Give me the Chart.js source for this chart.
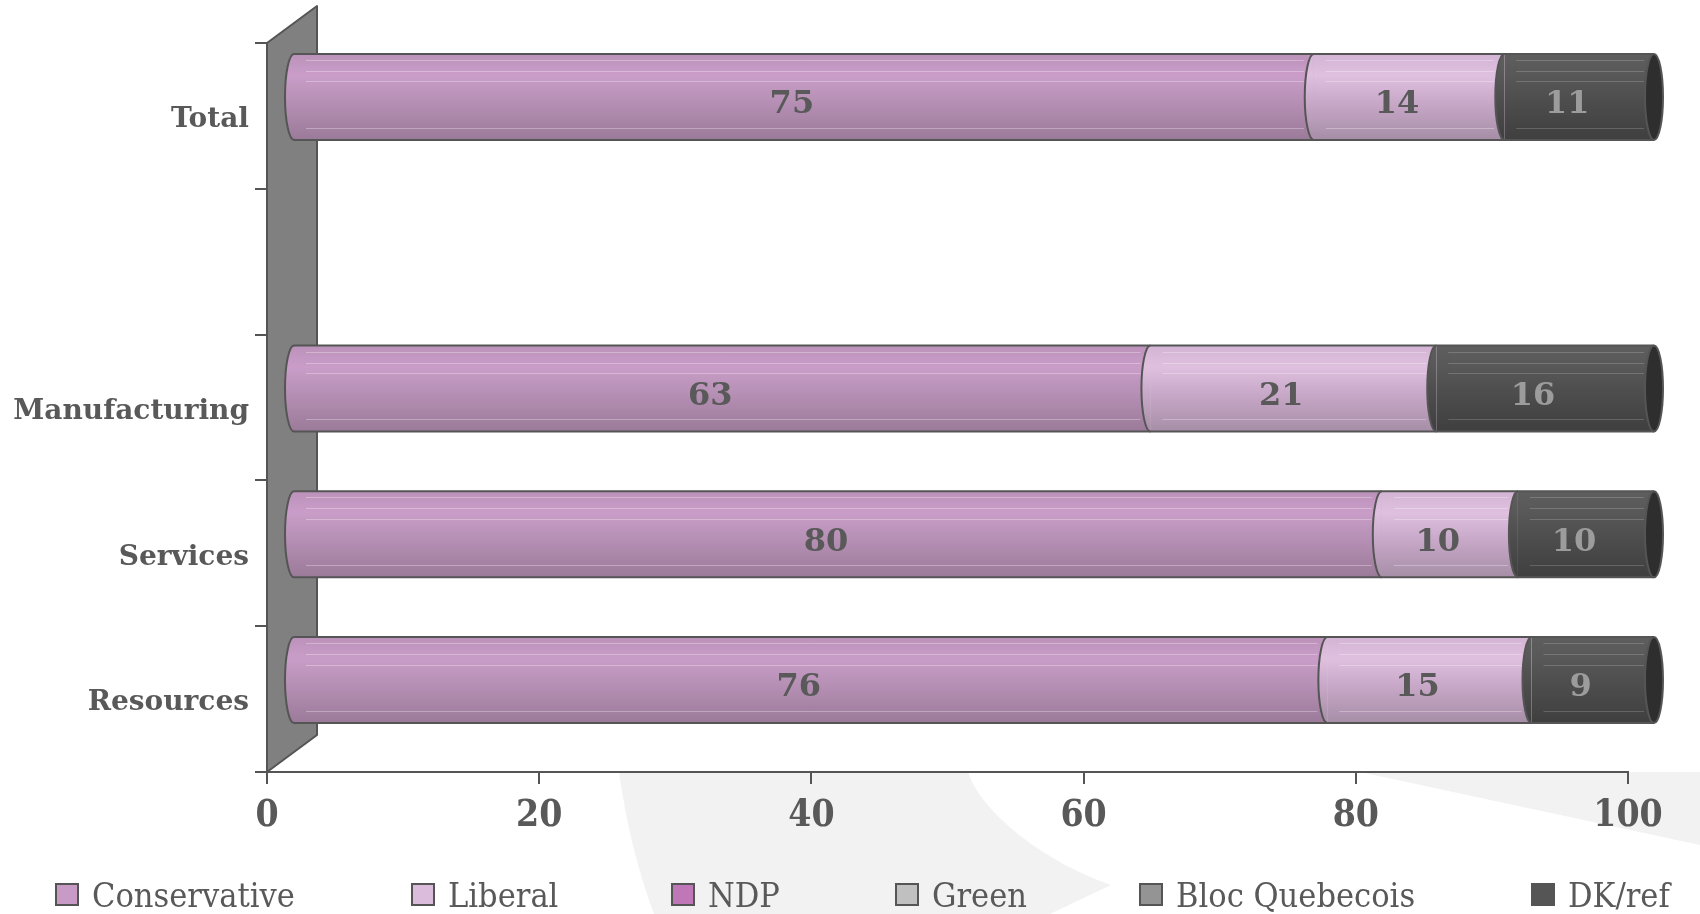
<!DOCTYPE html>
<html>
<head>
<meta charset="utf-8">
<script src="https://cdn.jsdelivr.net/npm/chart.js@4.4.1/dist/chart.umd.min.js"></script>
<style>
  html, body { margin: 0; padding: 0; background: #fff; }
  #wrap { width: 1700px; height: 914px; }
</style>
</head>
<body>
<div id="wrap"><canvas id="chart"></canvas></div>
<script>
// Data
const categories = ['Total', '', 'Manufacturing', 'Services', 'Resources'];
const seriesNames = ['Conservative', 'Liberal', 'NDP', 'Green', 'Bloc Quebecois', 'DK/ref'];
const conservative = [75, null, 63, 80, 76];
const liberal = [14, null, 21, 10, 15];
const ndp = [null, null, null, null, null];
const green = [null, null, null, null, null];
const bloc = [null, null, null, null, null];
const dkRef = [11, null, 16, 10, 9];
const xTicks = [0, 20, 40, 60, 80, 100];

// Styles
const SERIF = "'DejaVu Serif', serif";
const SERIF_C = "'DejaVu Serif Condensed', 'DejaVu Serif', serif";
const TEXT = '#595959';
const legendColors = ['#c79bc6', '#dcbcdc', '#c077b8', '#c0c0c0', '#949494', '#555555'];
const cylStops = [
    ['#bb92ba', '#c99dc8', '#b690b5', '#9b7a99'],
    ['#d4b4d4', '#dfc0df', '#c9a9c9', '#a68ea6'],
    null, null, null,
    ['#5e5e5e', '#585858', '#4d4d4d', '#3f3f3f']
];
const labelColors = [TEXT, TEXT, TEXT, TEXT, TEXT, '#9c9c9c'];
const legendX = [56, 412, 672, 896, 1140, 1532];
const BAR_PCT = 0.59;
const DX = 26, DY = -19;          // bars sit half way into the depth
const DEPTH_X = 50, DEPTH_Y = -37;
const CAP_RX = 9;
const HIGHLIGHTS = [0.07, 0.2, 0.32, 0.86];

function cylFill(i) {
    return function(ctx) {
        const stops = cylStops[i];
        if (!stops) return legendColors[i];
        const y = ctx.chart.scales && ctx.chart.scales.y;
        if (!y || ctx.type !== 'data') return stops[1];
        const yc = y.getPixelForValue(ctx.dataIndex);
        const half = ((y.bottom - y.top) / categories.length) * BAR_PCT / 2;
        if (!isFinite(yc) || !isFinite(half) || half <= 0) return stops[1];
        const g = ctx.chart.ctx.createLinearGradient(0, yc - half, 0, yc + half);
        g.addColorStop(0, stops[0]);
        g.addColorStop(0.25, stops[1]);
        g.addColorStop(0.55, stops[2]);
        g.addColorStop(1, stops[3]);
        return g;
    };
}

const seriesData = [conservative, liberal, ndp, green, bloc, dkRef];

const cylinderPlugin = {
    id: 'cylinder',
    beforeDraw(chart) {
        const c = chart.ctx;
        c.save();
        c.fillStyle = '#fff';
        c.fillRect(0, 0, chart.width, chart.height);
        // light background swooshes
        c.fillStyle = '#f2f2f2';
        c.beginPath();
        c.moveTo(619, 772);
        c.quadraticCurveTo(630, 850, 654, 914);
        c.lineTo(1050, 914);
        c.lineTo(1111, 885);
        c.bezierCurveTo(1040, 860, 980, 810, 968, 772);
        c.closePath();
        c.fill();
        c.beginPath();
        c.moveTo(1360, 772);
        c.lineTo(1700, 772);
        c.lineTo(1700, 845);
        c.closePath();
        c.fill();
        c.restore();
    },
    beforeDatasetsDraw(chart) {
        const c = chart.ctx, a = chart.chartArea;
        c.save();
        c.beginPath();
        c.moveTo(a.left, a.top);
        c.lineTo(a.left + DEPTH_X, a.top + DEPTH_Y);
        c.lineTo(a.left + DEPTH_X, a.bottom + DEPTH_Y);
        c.lineTo(a.left, a.bottom);
        c.closePath();
        c.fillStyle = '#808080';
        c.fill();
        c.strokeStyle = '#555';
        c.lineWidth = 2;
        c.lineJoin = 'round';
        c.stroke();
        c.restore();
        c.save();
        c.translate(DX, DY);
    },
    afterDatasetsDraw(chart) {
        const c = chart.ctx;
        categories.forEach((cat, row) => {
            const segs = [];
            chart.data.datasets.forEach((ds, di) => {
                const v = ds.data[row];
                if (!v) return;
                const el = chart.getDatasetMeta(di).data[row];
                if (!el) return;
                const p = el.getProps(['x', 'y', 'base', 'height'], true);
                segs.push({
                    di: di, v: v,
                    x0: Math.min(p.base, p.x), x1: Math.max(p.base, p.x),
                    y: p.y, h: p.height, fill: el.options.backgroundColor
                });
            });
            if (!segs.length) return;
            const first = segs[0], last = segs[segs.length - 1];
            const ry = first.h / 2, top = first.y - ry, bot = first.y + ry;

            // thin highlight lines
            c.lineWidth = 1;
            segs.forEach(s => {
                c.strokeStyle = s.di === 5 ? 'rgba(255,255,255,0.18)' : 'rgba(255,255,255,0.3)';
                HIGHLIGHTS.forEach(f => {
                    const yy = Math.round(top + f * s.h) + 0.5;
                    c.beginPath();
                    c.moveTo(s.x0 + 12, yy);
                    c.lineTo(s.x1 - 10, yy);
                    c.stroke();
                });
            });

            // left caps of each piece
            segs.forEach(s => {
                c.beginPath();
                c.ellipse(s.x0, s.y, CAP_RX, ry, 0, Math.PI / 2, Math.PI * 1.5);
                c.closePath();
                c.fillStyle = s.fill;
                c.fill();
                c.beginPath();
                c.ellipse(s.x0, s.y, CAP_RX, ry, 0, Math.PI / 2, Math.PI * 1.5);
                c.strokeStyle = '#555';
                c.lineWidth = 2;
                c.stroke();
            });

            // right end
            c.beginPath();
            c.ellipse(last.x1, last.y, CAP_RX, ry, 0, 0, Math.PI * 2);
            c.fillStyle = '#2e2e2e';
            c.fill();
            c.strokeStyle = '#555';
            c.lineWidth = 2;
            c.stroke();

            c.beginPath();
            c.moveTo(first.x0, top);
            c.lineTo(last.x1, top);
            c.moveTo(first.x0, bot);
            c.lineTo(last.x1, bot);
            c.stroke();

            // value labels
            c.font = 'bold 32px ' + SERIF;
            c.textAlign = 'center';
            c.textBaseline = 'middle';
            segs.forEach(s => {
                c.fillStyle = labelColors[s.di];
                c.fillText(String(s.v), (s.x0 + s.x1) / 2 - 12, s.y + 8);
            });
        });
        c.restore();
    },
    afterDraw(chart) {
        // legend
        const c = chart.ctx;
        c.save();
        c.font = '34px ' + SERIF_C;
        c.textAlign = 'left';
        c.textBaseline = 'alphabetic';
        seriesNames.forEach((name, i) => {
            const x = legendX[i];
            c.fillStyle = legendColors[i];
            c.fillRect(x, 884, 22, 21);
            c.strokeStyle = '#555';
            c.lineWidth = 2;
            c.strokeRect(x, 884, 22, 21);
            c.fillStyle = TEXT;
            c.fillText(name, x + 36, 907);
        });
        c.restore();
    }
};

new Chart(document.getElementById('chart'), {
    type: 'bar',
    data: {
        labels: categories,
        datasets: seriesNames.map((name, i) => ({
            label: name,
            data: seriesData[i],
            backgroundColor: cylFill(i),
            borderWidth: 0,
            barPercentage: BAR_PCT,
            categoryPercentage: 1.0
        }))
    },
    options: {
        indexAxis: 'y',
        responsive: true,
        maintainAspectRatio: false,
        animation: false,
        layout: {
            padding: { top: 43, right: 72, bottom: 82, left: 0 }
        },
        plugins: {
            legend: { display: false },
            tooltip: { enabled: false }
        },
        scales: {
            x: {
                stacked: true,
                min: 0,
                max: 100,
                afterBuildTicks: scale => { scale.ticks = xTicks.map(v => ({ value: v })); },
                afterFit: scale => { scale.height = 60; },
                grid: { drawOnChartArea: false, tickLength: 12, color: '#555', lineWidth: 2 },
                border: { display: true, color: '#555', width: 2 },
                ticks: {
                    color: TEXT,
                    padding: 10,
                    font: { family: SERIF_C, size: 37, weight: 'bold' }
                }
            },
            y: {
                stacked: true,
                afterFit: scale => { scale.width = 267; },
                grid: { drawOnChartArea: false, tickLength: 12, color: '#555', lineWidth: 2, offset: true },
                border: { display: false },
                ticks: {
                    color: TEXT,
                    padding: 6,
                    labelOffset: 4,
                    font: { family: SERIF, size: 28, weight: 'bold' }
                }
            }
        }
    },
    plugins: [cylinderPlugin]
});
</script>
</body>
</html>
